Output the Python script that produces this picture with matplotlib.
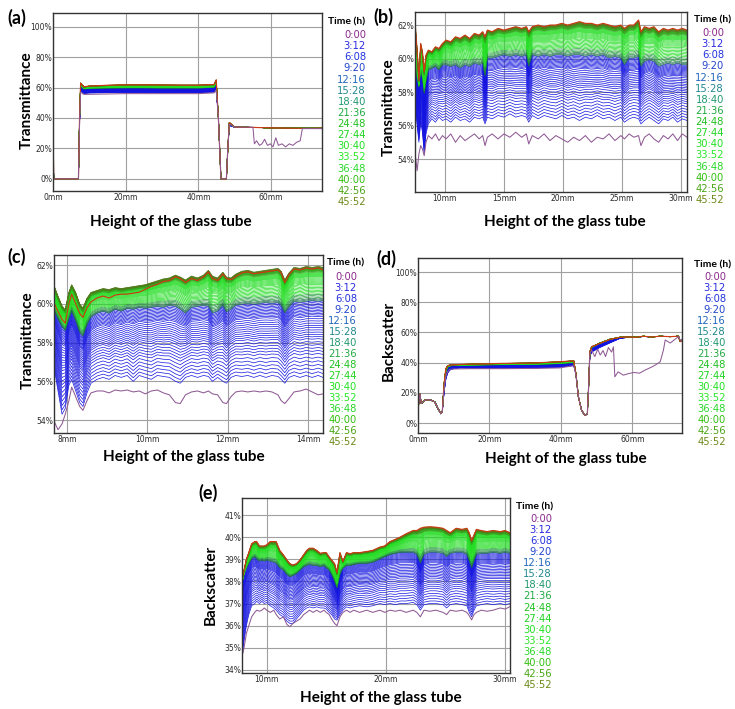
import numpy as np
import matplotlib
matplotlib.use('Agg')
import matplotlib.pyplot as plt

W, H = 735, 709

# legend entries (scan times) and their colours
times = ['0:00', '3:12', '6:08', '9:20', '12:16', '15:28', '18:40', '21:36',
         '24:48', '27:44', '30:40', '33:52', '36:48', '40:00', '42:56', '45:52']
time_colors = ['#8b2a8b', '#2a2ae0', '#2233dd', '#2244cc', '#2266bb', '#22888f',
               '#229970', '#22aa44', '#22c022', '#22d422', '#22e022', '#2ae82a',
               '#2ad82a', '#33c011', '#4aa615', '#6e8a1a']

# relative position of the intermediate scans inside the blue / green bands
blue_levels = [0, 0.05, 0.10, 0.15, 0.20, 0.25, 0.30, 0.34, 0.38, 0.42,
               0.46, 0.50, 0.53, 0.56, 0.59, 0.62, 0.65, 0.68, 0.71, 0.74,
               0.77, 0.80, 0.82, 0.84, 0.86, 0.88, 0.90, 0.92, 0.94, 0.96,
               0.98, 1.0]
green_levels = [0.02, 0.05, 0.08, 0.12, 0.16, 0.20, 0.24, 0.28, 0.32, 0.36,
                0.40, 0.44, 0.48, 0.52, 0.55, 0.58, 0.61, 0.64, 0.67, 0.70,
                0.72, 0.74, 0.76, 0.78, 0.80, 0.82, 0.84, 0.86, 0.87, 0.88,
                0.89, 0.90, 0.91, 0.92, 0.93, 0.94, 0.95, 0.96, 0.97, 0.98, 0.99]

# ---- (a) transmittance, full tube
x_a = [0, 0.2, 7.0, 7.3, 7.6, 8.5, 10, 15, 20, 25, 30, 35, 40,
       44.3, 44.9, 45.5, 46.2, 47.7, 48.1, 48.5, 50, 55, 60, 65, 70, 74]
top_a = [33, 0, 0, 40, 63, 60.5, 61.0, 61.5, 61.8, 61.8, 61.7, 61.6, 61.6,
         62.0, 65.0, 40, 0, 0, 20, 37, 34, 33.8, 33.5, 33.3, 33.2, 33.3]
cap_a = [33, 0, 0, 38, 61, 59.0, 59.3, 59.6, 59.7, 59.7, 59.6, 59.6, 59.6,
         60.0, 62.5, 40, 0, 0, 20, 36, 34, 33.8, 33.5, 33.3, 33.2, 33.3]
low_a = [33, 0, 0, 36, 58, 56.0, 56.4, 56.6, 56.7, 56.7, 56.6, 56.6, 56.6,
         57.0, 59.5, 40, 0, 0, 20, 35, 34, 33.8, 33.5, 33.3, 33.2, 33.3]
xp_a = [0, 0.2, 7.0, 7.3, 7.6, 8.5, 20, 40, 44.3, 44.9, 45.5, 46.2, 47.7,
        48.1, 48.5, 50, 55.0, 55.4, 56.0, 56.8, 57.5, 58.2, 59.0, 59.8, 60.5,
        61.3, 62.0, 63.0, 64.0, 65.0, 66.0, 67.0, 68.0, 68.6, 70, 74]
purple_a = [33, 0, 0, 35, 57, 55.5, 56.0, 56.0, 56.5, 58.0, 40, 0, 0,
            20, 36, 34, 34, 23, 25, 22, 23, 26, 22, 23, 21,
            27, 22, 23, 21, 23, 22, 24, 25, 33, 33, 33]

# ---- (b) transmittance, zoom 7.5-30.5 mm
x_b = [7.5, 7.65, 7.8, 7.95, 8.1, 8.25, 8.4, 8.6, 8.9, 9.2,
       9.5, 9.8, 10.1, 10.5, 10.9, 11.3, 11.7, 12.1, 12.5, 12.9,
       13.2, 13.4, 13.6, 14.0, 14.5, 15.0, 15.5, 16.0, 16.5, 16.9,
       17.1, 17.4, 17.9, 18.4, 18.9, 19.4, 19.9, 20.4, 20.9, 21.4,
       21.9, 22.4, 22.9, 23.4, 23.9, 24.4, 24.9, 25.2, 25.6, 26.0,
       26.4, 26.6, 26.9, 27.3, 27.7, 28.1, 28.5, 28.9, 29.3, 29.7,
       30.1, 30.5]
top_b = [61.9, 60.5, 58.7, 60.9, 60.4, 59.2, 60.2, 60.5, 60.4, 60.7,
         60.6, 60.9, 61.1, 61.0, 61.3, 61.2, 61.4, 61.2, 61.5, 61.4,
         61.6, 61.3, 61.7, 61.6, 61.8, 61.7, 61.8, 61.9, 61.8, 61.9,
         61.6, 61.9, 62.0, 61.9, 62.0, 62.0, 62.1, 62.0, 62.1, 62.2,
         62.1, 62.1, 62.0, 62.1, 62.0, 61.9, 62.0, 61.8, 62.0, 62.0,
         62.3, 61.6, 61.9, 61.8, 61.9, 61.6, 61.8, 61.7, 61.8, 61.7,
         61.8, 61.7]
cap_b = [59.5, 58.8, 58.3, 59.2, 58.8, 57.9, 58.6, 59.3, 59.4, 59.5,
         59.3, 59.6, 59.6, 59.5, 59.6, 59.4, 59.6, 59.5, 59.7, 59.6,
         59.7, 58.9, 60.0, 60.0, 60.1, 60.2, 60.1, 60.2, 60.1, 60.2,
         59.5, 60.2, 60.1, 60.2, 60.1, 60.2, 60.2, 60.1, 60.2, 60.2,
         60.1, 60.2, 60.1, 60.2, 60.0, 60.1, 60.0, 59.6, 60.0, 60.0,
         60.1, 59.5, 59.8, 59.9, 59.8, 59.5, 59.6, 59.7, 59.6, 59.7,
         59.6, 59.6]
low_b = [57.5, 56.0, 55.0, 56.2, 55.6, 54.3, 55.5, 56.1, 56.4, 56.2,
         56.5, 56.3, 56.4, 56.2, 56.5, 56.3, 56.4, 56.2, 56.5, 56.4,
         56.5, 56.1, 56.5, 56.4, 56.6, 56.5, 56.7, 56.5, 56.6, 56.5,
         56.2, 56.6, 56.4, 56.6, 56.5, 56.4, 56.6, 56.4, 56.5, 56.3,
         56.5, 56.4, 56.6, 56.4, 56.5, 56.3, 56.5, 56.2, 56.4, 56.5,
         56.4, 56.1, 56.3, 56.5, 56.3, 56.1, 56.4, 56.3, 56.5, 56.2,
         56.4, 56.3]
purple_b = [54.2, 53.3, 54.3, 54.8, 54.6, 54.2, 55.0, 55.4, 55.2, 55.5,
            55.1, 55.4, 55.2, 55.5, 55.0, 55.4, 55.1, 55.3, 55.5, 55.2,
            55.4, 54.8, 55.3, 55.5, 55.2, 55.5, 55.3, 55.6, 55.3, 55.5,
            54.9, 55.4, 55.2, 55.5, 55.1, 55.4, 55.2, 55.0, 55.3, 55.1,
            55.4, 55.0, 55.3, 55.2, 55.5, 55.1, 55.4, 55.2, 55.5, 55.3,
            55.4, 54.8, 55.3, 55.5, 55.2, 55.0, 55.4, 55.2, 55.5, 55.1,
            55.5, 55.3]

# ---- (c) transmittance, zoom 7.7-14.4 mm
x_c = [7.69, 7.78, 7.88, 7.96, 8.05, 8.12, 8.22, 8.32, 8.4, 8.5,
       8.6, 8.75, 8.9, 9.05, 9.2, 9.35, 9.5, 9.65, 9.8, 9.95,
       10.1, 10.25, 10.4, 10.55, 10.7, 10.82, 10.95, 11.1, 11.25, 11.4,
       11.52, 11.62, 11.75, 11.88, 11.97, 12.08, 12.2, 12.35, 12.5, 12.65,
       12.8, 12.95, 13.1, 13.25, 13.33, 13.42, 13.52, 13.65, 13.8, 13.95,
       14.1, 14.25, 14.37]
top_c = [60.0, 59.6, 59.2, 59.0, 60.0, 60.5, 60.0, 59.5, 59.3, 59.8,
         60.1, 60.3, 60.4, 60.3, 60.45, 60.5, 60.5, 60.55, 60.6, 60.75,
         60.9, 61.0, 61.15, 61.2, 61.4, 61.3, 61.1, 61.3, 61.2, 61.4,
         61.65, 61.3, 61.2, 61.55, 61.3, 61.25, 61.4, 61.6, 61.65, 61.55,
         61.6, 61.65, 61.7, 61.75, 61.6, 61.1, 61.5, 61.8, 61.75, 61.85,
         61.8, 61.85, 61.75]
gtop_c = [60.9, 60.4, 59.9, 59.7, 60.6, 61.0, 60.6, 60.0, 59.8, 60.3,
          60.6, 60.7, 60.8, 60.75, 60.85, 60.8, 60.85, 60.9, 60.95, 61.0,
          61.1, 61.2, 61.3, 61.35, 61.5, 61.4, 61.25, 61.45, 61.35, 61.5,
          61.75, 61.45, 61.35, 61.65, 61.4, 61.35, 61.55, 61.7, 61.75, 61.65,
          61.7, 61.75, 61.8, 61.85, 61.7, 61.25, 61.6, 61.9, 61.85, 61.95,
          61.9, 61.95, 61.9]
cap_c = [59.6, 59.2, 58.8, 58.6, 59.2, 59.6, 59.1, 58.5, 58.3, 58.9,
         59.3, 59.5, 59.6, 59.5, 59.7, 59.6, 59.75, 59.7, 59.8, 59.75,
         59.8, 59.85, 59.8, 59.9, 59.85, 59.7, 59.5, 59.8, 59.85, 59.9,
         59.85, 59.5, 59.6, 59.9, 59.55, 59.7, 59.9, 59.95, 60.0, 59.95,
         60.0, 60.05, 60.0, 60.05, 59.9, 59.5, 59.8, 60.1, 60.05, 60.1,
         60.15, 60.1, 60.15]
low_c = [56.6, 55.5, 54.3, 54.6, 55.8, 56.1, 55.5, 54.9, 54.7, 55.4,
         55.9, 56.1, 56.2, 56.1, 56.3, 56.2, 56.3, 56.0, 56.3, 56.2,
         56.1, 56.3, 56.25, 56.2, 56.0, 55.9, 56.2, 56.3, 56.2, 56.3,
         56.25, 56.0, 56.2, 56.0, 55.9, 56.2, 56.3, 56.25, 56.3, 56.2,
         56.3, 56.2, 56.3, 56.25, 56.1, 55.9, 56.2, 56.3, 56.2, 56.3,
         56.2, 56.3, 56.2]
purple_c = [53.9, 53.5, 53.8, 54.3, 55.0, 55.7, 55.2, 54.7, 54.5, 55.0,
            55.4, 55.5, 55.5, 55.4, 55.55, 55.5, 55.55, 55.45, 55.5, 55.35,
            55.5, 55.55, 55.4, 55.3, 54.9, 54.85, 55.3, 55.45, 55.5, 55.4,
            55.5, 55.35, 55.3, 54.9, 54.85, 55.2, 55.45, 55.5, 55.45, 55.5,
            55.45, 55.5, 55.45, 55.3, 55.0, 54.85, 55.1, 55.45, 55.5, 55.6,
            55.45, 55.3, 55.35]

# ---- (d) backscatter, full tube
x_d = [0, 0.5, 0.9, 1.9, 3.3, 4.7, 5.6, 6.4, 6.8, 7.3,
       7.8, 8.3, 8.9, 10, 12, 14.5, 20, 23.8, 30, 33.2,
       39.7, 43.6, 44.2, 44.9, 45.8, 46.7, 47.4, 47.8, 48.1, 48.6,
       50.9, 53.7, 56.5, 59, 61.2, 63.1, 65.4, 67.8, 70.6, 72.9,
       73.4, 74]
top_d = [8.4, 19.5, 12.9, 15.1, 15.5, 14.0, 9.5, 6.2, 7.5, 26,
         36, 38, 38.4, 38.6, 38.8, 39.0, 39.3, 39.5, 39.7, 39.9,
         40.6, 41.2, 32.8, 17.3, 8.4, 5.1, 6.0, 26, 47.2, 50.5,
         52.8, 55.4, 56.8, 57.0, 56.8, 57.5, 57.0, 57.5, 57.2, 57.5,
         53.9, 55.0]
cap_d = [8.4, 19.5, 12.9, 15.1, 15.5, 14.0, 9.5, 6.2, 7.5, 25,
         34, 37, 37.8, 38.0, 38.2, 38.3, 38.5, 38.6, 38.7, 38.8,
         39.3, 40.0, 32.8, 17.3, 8.4, 5.1, 6.0, 26, 46, 50,
         53, 55.5, 56.8, 57.0, 56.8, 57.5, 57.0, 57.5, 57.2, 57.5,
         53.9, 55.0]
low_d = [8.4, 19.5, 12.9, 15.1, 15.5, 14.0, 9.5, 6.2, 7.5, 20,
         29, 33, 35, 36.0, 36.5, 36.3, 36.2, 36.3, 36.3, 36.4,
         37.0, 38.0, 32.8, 17.3, 8.4, 5.1, 6.0, 26, 44, 47,
         50, 53, 56, 56.8, 56.8, 57.3, 57.0, 57.5, 57.2, 57.5,
         53.9, 55.0]
xp_d = [0, 0.5, 0.9, 1.9, 3.3, 4.7, 5.6, 6.4, 6.8, 7.3,
        7.8, 8.3, 8.9, 10, 14.5, 23.8, 33.2, 39.7, 43.6, 44.2,
        44.9, 45.8, 46.7, 47.4, 47.8, 48.1, 48.6, 49.5, 50.3, 51.0,
        51.8, 52.5, 53.3, 54.2, 54.7, 55.1, 56.0, 57.5, 59.0, 60.5,
        62.0, 63.5, 64.5, 65.5, 66.5, 67.8, 68.7, 69.2, 70.6, 72.9,
        73.4, 74]
purple_d = [8.4, 19.5, 12.9, 15.1, 15.5, 14.0, 9.5, 6.2, 7.5, 22,
            31, 34, 35.5, 35.8, 36.0, 36.0, 36.2, 36.5, 38.0, 32,
            17.3, 8.4, 5.1, 6.0, 26, 46, 48.3, 44, 49, 45,
            48, 44, 50, 47, 50.5, 30.6, 33.9, 31.7, 32.8, 33.5,
            33, 35, 36.1, 37.2, 38.5, 40.6, 48.3, 55, 53, 57.2,
            55, 54]

# ---- (e) backscatter, zoom 7.9-30.4 mm
x_e = [7.93, 8.1, 8.3, 8.5, 8.74, 9.0, 9.16, 9.4, 9.6, 9.8,
       10.0, 10.3, 10.6, 10.8, 11.1, 11.4, 11.7, 11.95, 12.2, 12.5,
       12.8, 13.1, 13.36, 13.6, 13.9, 14.2, 14.5, 14.8, 15.0, 15.25,
       15.45, 15.7, 15.9, 16.15, 16.4, 16.7, 17.0, 17.3, 17.8, 18.4,
       18.9, 19.5, 19.9, 20.35, 20.8, 21.2, 21.7, 22.3, 22.6, 22.9,
       23.2, 23.7, 24.2, 24.8, 25.1, 25.4, 25.9, 26.4, 26.8, 27.0,
       27.2, 27.4, 27.6, 28.0, 28.5, 29.0, 29.6, 30.0, 30.42]
top_e = [38.1, 38.5, 39.0, 39.3, 39.7, 39.8, 39.8, 39.6, 39.6, 39.6,
         39.65, 39.8, 39.8, 39.8, 39.4, 39.2, 38.97, 38.8, 38.74, 38.8,
         38.97, 39.2, 39.4, 39.5, 39.5, 39.4, 39.27, 39.3, 39.3, 39.1,
         38.97, 38.8, 38.4, 39.3, 38.9, 39.3, 39.25, 39.3, 39.3, 39.35,
         39.4, 39.55, 39.6, 39.8, 39.9, 40.0, 40.15, 40.3, 40.3, 40.4,
         40.45, 40.47, 40.45, 40.4, 40.3, 40.2, 40.4, 40.35, 40.4, 40.2,
         39.85, 40.1, 40.35, 40.3, 40.25, 40.3, 40.25, 40.3, 40.2]
cap_e = [37.9, 38.3, 38.6, 38.8, 39.0, 39.1, 39.0, 38.9, 38.95, 38.9,
         38.95, 38.9, 38.85, 38.8, 38.6, 38.5, 38.3, 38.2, 38.25, 38.35,
         38.5, 38.65, 38.7, 38.75, 38.7, 38.7, 38.65, 38.7, 38.6, 38.5,
         38.3, 38.0, 37.7, 38.3, 38.6, 38.7, 38.7, 38.75, 38.8, 38.8,
         38.85, 39.0, 39.1, 39.2, 39.25, 39.3, 39.3, 39.3, 39.2, 38.8,
         39.2, 39.3, 39.3, 39.25, 39.1, 39.25, 39.3, 39.3, 39.2, 38.9,
         38.6, 38.9, 39.2, 39.25, 39.25, 39.3, 39.25, 39.3, 39.25]
low_e = [34.5, 35.3, 36.0, 36.5, 36.9, 37.0, 37.1, 37.0, 37.1, 37.0,
         37.05, 36.9, 36.8, 36.7, 36.5, 36.4, 36.2, 36.1, 36.1, 36.3,
         36.5, 36.7, 36.8, 36.85, 36.8, 36.85, 36.8, 36.8, 36.75, 36.6,
         36.5, 36.3, 36.25, 36.5, 36.7, 36.85, 36.8, 36.85, 36.9, 36.85,
         36.9, 37.0, 36.95, 37.0, 36.95, 37.0, 37.0, 37.05, 36.95, 36.7,
         36.95, 37.0, 37.0, 36.95, 36.8, 36.95, 37.0, 36.95, 36.9, 36.6,
         36.4, 36.7, 36.9, 36.95, 37.0, 36.95, 37.0, 36.95, 37.0]
purple_e = [34.6, 35.0, 35.65, 36.0, 36.4, 36.6, 36.7, 36.65, 36.7, 36.8,
            36.7, 36.6, 36.7, 36.5, 36.3, 36.4, 36.05, 35.95, 36.1, 36.2,
            36.3, 36.5, 36.6, 36.7, 36.6, 36.7, 36.6, 36.7, 36.6, 36.5,
            36.3, 36.1, 36.0, 36.4, 36.6, 36.7, 36.6, 36.7, 36.6, 36.7,
            36.6, 36.7, 36.6, 36.7, 36.65, 36.7, 36.6, 36.7, 36.6, 36.4,
            36.7, 36.65, 36.7, 36.6, 36.5, 36.7, 36.65, 36.7, 36.6, 36.45,
            36.26, 36.5, 36.6, 36.7, 36.65, 36.7, 36.8, 36.75, 36.86]


def fx(px):
    return px / W


def fy(py):
    return 1 - py / H


def green_color(f):
    if f < 0.10:
        return '#1b6e48'
    if f < 0.22:
        return '#1f9a38'
    if f < 0.84:
        return '#22dd22'
    if f < 0.93:
        return '#30aa1c'
    return '#4f7d1a'


def draw_scans(ax, x, low, cap, top, gtop=None, xp=None, purple=None):
    low, cap, top = np.array(low), np.array(cap), np.array(top)
    gtop = top if gtop is None else np.array(gtop)
    for f in blue_levels:
        ax.plot(x, low + f * (cap - low), color='#1414e0', lw=0.5)
    for f in green_levels:
        ax.plot(x, cap + f * (gtop - cap), color=green_color(f), lw=0.5)
    ax.plot(x, top, color='#cc3a12', lw=0.85)
    ax.plot(xp if xp is not None else x, purple, color='#8e5a94', lw=0.75)


def style_axes(ax, xlim, ylim, xticks, yticks):
    ax.set_xlim(*xlim)
    ax.set_ylim(*ylim)
    ax.set_xticks(xticks)
    ax.set_xticklabels([f'{t}mm' for t in xticks])
    ax.set_yticks(yticks)
    ax.set_yticklabels([f'{t}%' for t in yticks])
    ax.grid(True, color='#a0a0a0', lw=0.8)
    ax.set_axisbelow(True)
    ax.tick_params(length=0, labelsize=5.5, colors='#2a2a2a', pad=1.5)
    ax.tick_params(axis='y', pad=0.5)
    for s in ax.spines.values():
        s.set_color('#333333')
        s.set_linewidth(1.0)


def add_legend(title_x, title_y, right_x, first_y, last_y):
    fig.text(fx(title_x), fy(title_y), 'Time (h)', ha='center', va='center',
             fontsize=7.5, fontweight='bold', family='Lato')
    step = (last_y - first_y) / (len(times) - 1)
    for i, (t, c) in enumerate(zip(times, time_colors)):
        fig.text(fx(right_x), fy(first_y + i * step), t, ha='right', va='center',
                 fontsize=7.2, color=c)


def add_labels(tag, tag_xy, ylabel, ylab_xy, xlab_xy):
    fig.text(fx(tag_xy[0]), fy(tag_xy[1]), tag, ha='center', va='center',
             fontsize=13, fontweight='bold', family='Lato')
    fig.text(fx(ylab_xy[0]), fy(ylab_xy[1]), ylabel, ha='center', va='center',
             rotation=90, fontsize=11, fontweight='bold', family='Lato')
    fig.text(fx(xlab_xy[0]), fy(xlab_xy[1]), 'Height of the glass tube',
             ha='center', va='center', fontsize=11, fontweight='bold', family='Lato')


def make_axes(x0, y0, x1, y1):
    return fig.add_axes([fx(x0), fy(y1), (x1 - x0) / W, (y1 - y0) / H])


fig = plt.figure(figsize=(W / 100, H / 100), dpi=100)

ax = make_axes(53, 13, 322, 191)
draw_scans(ax, x_a, low_a, cap_a, top_a, xp=xp_a, purple=purple_a)
style_axes(ax, (0, 74), (-8, 109), [0, 20, 40, 60], [0, 20, 40, 60, 80, 100])
add_labels('(a)', (17, 18), 'Transmittance', (27, 100), (171, 222))
add_legend(347, 22, 366, 35, 202)

ax = make_axes(415, 12, 687, 192)
draw_scans(ax, x_b, low_b, cap_b, top_b, purple=purple_b)
style_axes(ax, (7.47, 30.5), (52.03, 62.78), [10, 15, 20, 25, 30], [54, 56, 58, 60, 62])
add_labels('(b)', (383, 17), 'Transmittance', (389, 107), (565, 222))
add_legend(713, 20, 724, 33, 200)

ax = make_axes(54, 255, 323, 433)
draw_scans(ax, x_c, low_c, cap_c, top_c, gtop=gtop_c, purple=purple_c)
style_axes(ax, (7.68, 14.37), (53.33, 62.52), [8, 10, 12, 14], [54, 56, 58, 60, 62])
add_labels('(c)', (17, 257), 'Transmittance', (28, 340), (184, 457))
add_legend(346, 263, 357, 277, 442)

ax = make_axes(418, 258, 682, 433)
draw_scans(ax, x_d, low_d, cap_d, top_d, xp=xp_d, purple=purple_d)
style_axes(ax, (0, 73.9), (-6.6, 109.3), [0, 20, 40, 60], [0, 20, 40, 60, 80, 100])
add_labels('(d)', (386, 259), 'Backscatter', (389, 341), (566, 459))
add_legend(713, 265, 726, 277, 442)

ax = make_axes(242, 498, 510, 673)
draw_scans(ax, x_e, low_e, cap_e, top_e, purple=purple_e)
style_axes(ax, (7.93, 30.42), (33.86, 41.77), [10, 20, 30], [34, 35, 36, 37, 38, 39, 40, 41])
add_labels('(e)', (208, 493), 'Backscatter', (211, 585), (381, 698))
add_legend(535, 507, 552, 519, 685)

fig.savefig('out.png', dpi=100)
